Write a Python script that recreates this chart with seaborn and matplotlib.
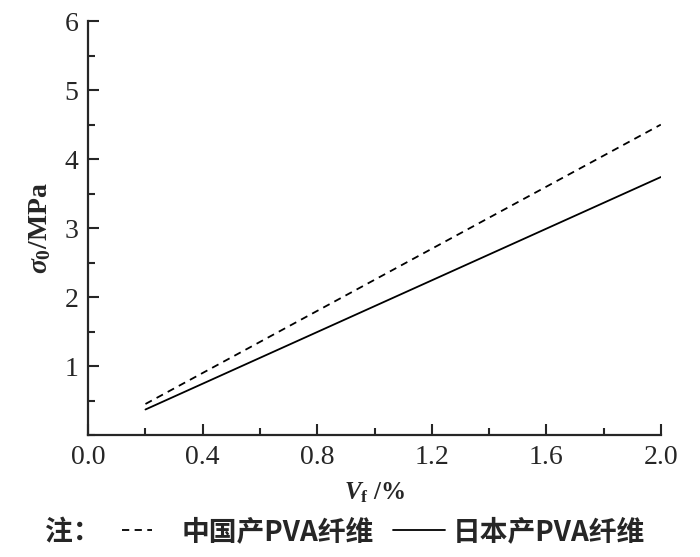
import numpy as np
import pandas as pd
import matplotlib
matplotlib.use("Agg")
import matplotlib.pyplot as plt
import seaborn as sns
from matplotlib.ticker import MultipleLocator

# data (straight lines between the ends)
vf = [0.2, 2.0]
sigma_cn = [0.45, 4.50]   # 中国产PVA纤维 (dashed)
sigma_jp = [0.37, 3.74]   # 日本产PVA纤维 (solid)
series_names = ["中国产PVA纤维", "日本产PVA纤维"]
x_ticks = [0.0, 0.4, 0.8, 1.2, 1.6, 2.0]
y_ticks = [1, 2, 3, 4, 5, 6]

sns.set_style("ticks")
plt.rcParams["font.family"] = ["Liberation Serif", "Noto Sans CJK SC"]
plt.rcParams["mathtext.fontset"] = "custom"
plt.rcParams["mathtext.it"] = "Liberation Serif:italic:bold"
plt.rcParams["mathtext.rm"] = "Liberation Serif:bold"
plt.rcParams["mathtext.bf"] = "Liberation Serif:bold"

df = pd.DataFrame({
    "Vf": vf * 2,
    "sigma": sigma_cn + sigma_jp,
    "series": [series_names[0]] * len(vf) + [series_names[1]] * len(vf),
})

fig = plt.figure(figsize=(7.0, 5.57), dpi=100)
ax = fig.add_axes([0.126, 0.219, 0.818, 0.743])

sns.lineplot(data=df[df.series == series_names[0]], x="Vf", y="sigma",
             color="black", lw=1.3, linestyle=(0, (4, 3)), ax=ax,
             label=series_names[0])
sns.lineplot(data=df[df.series == series_names[1]], x="Vf", y="sigma",
             color="black", lw=1.3, linestyle="-", ax=ax,
             label=series_names[1])

ax.set_xlim(0, 2.0)
ax.set_ylim(0, 6)
ax.set_xticks(x_ticks)
ax.set_xticklabels([f"{t:.1f}" for t in x_ticks])
ax.set_yticks(y_ticks)
ax.set_yticklabels([str(t) for t in y_ticks])
ax.xaxis.set_minor_locator(MultipleLocator(0.2))
ax.yaxis.set_minor_locator(MultipleLocator(0.5))
ax.tick_params(which="major", direction="in", length=8, width=1.5,
               labelsize=20, pad=7)
ax.tick_params(which="minor", direction="in", length=5, width=1.5)
for s in ["left", "bottom"]:
    ax.spines[s].set_linewidth(1.6)
sns.despine(ax=ax)

ax.set_xlabel(r"$V_{\rm f}$ /%", fontsize=18, fontweight="bold", labelpad=8)
ax.set_ylabel(r"$\sigma_0$/MPa", fontsize=20, fontweight="bold", labelpad=8)

# legend below the plot, written as a note: 注：---- 中国产… —— 日本产…
handles, labels = ax.get_legend_handles_labels()
ax.get_legend().remove()
leg_font = {"family": ["Noto Sans CJK SC"], "size": 20, "weight": "bold"}
fig.legend(handles[:1], labels[:1], loc="center left",
           bbox_to_anchor=(0.174, 0.045), frameon=False, borderpad=0,
           borderaxespad=0, handlelength=1.1, handletextpad=1.05,
           prop=leg_font)
fig.legend(handles[1:], labels[1:], loc="center left",
           bbox_to_anchor=(0.561, 0.045), frameon=False, borderpad=0,
           borderaxespad=0, handlelength=1.9, handletextpad=0.25,
           prop=leg_font)
fig.text(0.064, 0.045, "注：", fontsize=20, fontweight="bold",
         family=["Noto Sans CJK SC"], va="center", ha="left")

fig.savefig("out.png", dpi=100)
